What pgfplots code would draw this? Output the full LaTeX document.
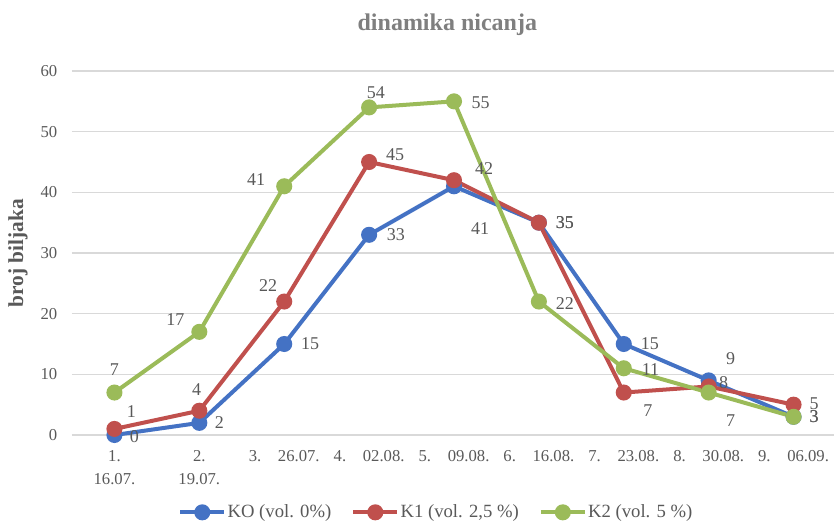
\documentclass[border=0pt]{standalone}
\usepackage{fontspec}
\setmainfont{Liberation Serif}
\usepackage{pgfplots}
\usepackage{pgfplotstable}
\pgfplotsset{compat=1.18}
\definecolor{cKO}{HTML}{4472C4}
\definecolor{cK1}{HTML}{C0504D}
\definecolor{cK2}{HTML}{9BBB59}
\definecolor{txt}{HTML}{595959}
\definecolor{grd}{HTML}{D9D9D9}
\definecolor{ttl}{HTML}{7F7F7F}

\pgfplotstableread{
x ko k1 k2
0 0 1 7
1 2 4 17
2 15 22 41
3 33 45 54
4 41 42 55
5 35 35 22
6 15 7 11
7 9 8 7
8 3 5 3
}\data

\pgfplotsset{
  lbl/.style={draw=none, mark=none, forget plot, nodes near coords,
    every node near coord/.append style={font=\fontsize{13.5}{15}\selectfont, text=txt, inner sep=0pt, anchor=center}},
  L/.style n args={3}{coordinate style/.condition={\coordindex==#1}{xshift=#2pt, yshift=#3pt}},
}

\begin{document}
\begin{tikzpicture}
\begin{axis}[
  name=ax,
  at={(0,0)}, anchor=south west,
  scale only axis,
  width=573pt, height=273pt,
  xmin=-0.5, xmax=8.5,
  ymin=0, ymax=60,
  ytick={0,10,...,60},
  xtick={0,...,8},
  xticklabels={{1.\\16.07.},{2.\\19.07.},{3.\hspace{1em}26.07.},{4.\hspace{1em}02.08.},{5.\hspace{1em}09.08.},{6.\hspace{1em}16.08.},{7.\hspace{1em}23.08.},{8.\hspace{1em}30.08.},{9.\hspace{1em}06.09.}},
  xticklabel style={align=center, font=\fontsize{12.5}{17}\selectfont, text=txt, yshift=-8pt},
  yticklabel style={font=\fontsize{12.5}{14}\selectfont, text=txt, xshift=-7.5pt},
  /pgf/number format/assume math mode=true,
  axis line style={draw=none},
  axis x line*=bottom,
  axis y line*=left,
  x axis line style={draw=grd, line width=0.8pt},
  major tick length=0pt,
  ymajorgrids,
  grid style={draw=grd, line width=0.8pt},
  clip=false,
  title={dinamika nicanja},
  title style={at={(axis description cs:0.5,1)}, anchor=center, yshift=29pt, xshift=-5pt, font=\fontsize{18}{20}\selectfont\bfseries, text=ttl},
  ylabel={broj biljaka},
  ylabel style={at={(axis description cs:0,0.5)}, anchor=center, yshift=40.5pt, font=\fontsize{16}{18}\selectfont\bfseries, text=txt},
  legend columns=3,
  legend style={at={(axis description cs:0.5,0)}, anchor=center, yshift=-58pt, xshift=-13.5pt, draw=none, font=\fontsize{14}{16}\selectfont, text=txt,
    /tikz/every even column/.append style={column sep=14pt}, inner sep=0pt,
    nodes={inner xsep=1pt}},
  legend image code/.code={\draw[#1, mark repeat=2, mark phase=2] plot coordinates {(0pt,0pt) (16.5pt,0pt) (33pt,0pt)};},
]
\addplot[cKO, line width=3pt, mark=*, mark size=4.5pt] table[x=x, y=ko] {\data};
\addlegendentry{KO (vol. 0\%)}
\addplot[cK1, line width=3pt, mark=*, mark size=4.5pt] table[x=x, y=k1] {\data};
\addlegendentry{K1 (vol. 2,5 \%)}
\addplot[cK2, line width=3pt, mark=*, mark size=4.5pt] table[x=x, y=k2] {\data};
\addlegendentry{K2 (vol. 5 \%)}
\addplot[lbl, L={0}{15}{-1.5}, L={1}{15}{0}, L={2}{19.5}{0}, L={3}{20}{0}, L={4}{19.5}{-31.5},
  L={5}{19.5}{0}, L={6}{19.5}{0}, L={7}{16.5}{16.5}, L={8}{15.5}{0}] table[x=x, y=ko] {\data};
\addplot[lbl, L={0}{12.75}{12.75}, L={1}{-2}{15.75}, L={2}{-12}{12}, L={3}{19.5}{5.25}, L={4}{22.5}{9},
  L={5}{19.5}{0}, L={6}{18}{-13.5}, L={7}{11.25}{3}, L={8}{15.5}{1}] table[x=x, y=k1] {\data};
\addplot[lbl, L={0}{0}{17}, L={1}{-18}{9}, L={2}{-21}{5.25}, L={3}{5}{11.25}, L={4}{20}{-0.75},
  L={5}{19.5}{-1.5}, L={6}{20}{-0.75}, L={7}{16.5}{-21}, L={8}{15.5}{0}] table[x=x, y=k2] {\data};
\end{axis}
\pgfresetboundingbox
\path[use as bounding box] (-54pt,-66.75pt) rectangle (571.5pt,326.25pt);
\end{tikzpicture}
\end{document}
